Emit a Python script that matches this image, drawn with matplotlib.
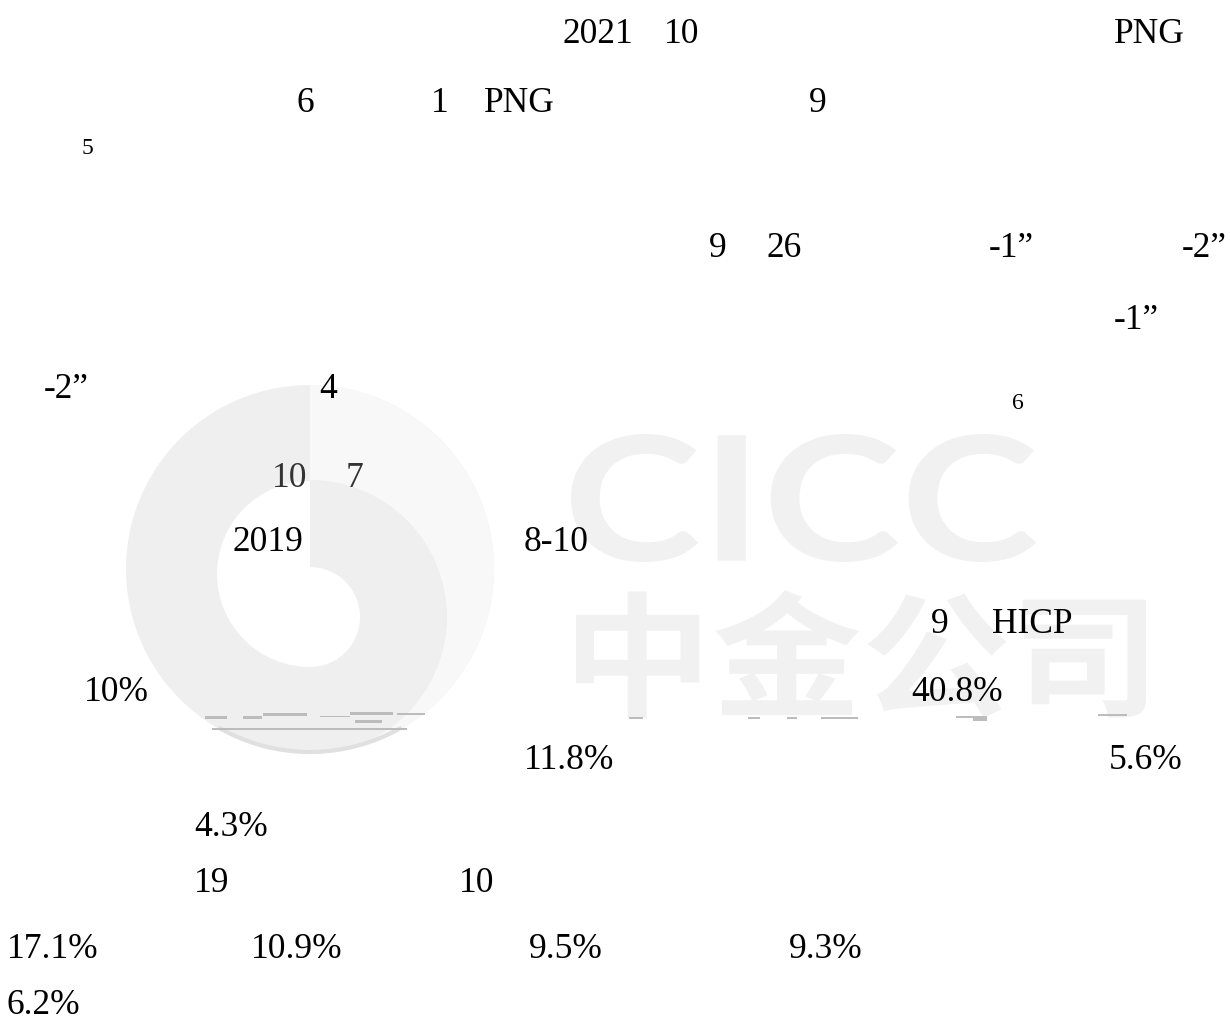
import matplotlib
matplotlib.use("Agg")
import matplotlib.pyplot as plt
from matplotlib.patches import Circle, Wedge, Rectangle, PathPatch, Arc
from matplotlib.textpath import TextPath
from matplotlib.font_manager import FontProperties
from matplotlib.transforms import Affine2D

# Texte lisible de la page (les caracteres chinois manquent dans le rendu d'origine)
row_texts = [
    ["2021", "10", "PNG"],
    ["6", "1", "PNG", "9"],
    ["9", "26", "-1\u201d", "-2\u201d"],
    ["-1\u201d"],
    ["-2\u201d", "4"],
    ["10", "7"],
    ["2019", "8-10"],
    ["9", "HICP"],
    ["10%", "40.8%"],
    ["11.8%", "5.6%"],
    ["4.3%"],
    ["19", "10"],
    ["17.1%", "10.9%", "9.5%", "9.3%"],
    ["6.2%"],
]
note_marks = ["5", "6"]

# Positions en pixels (x gauche, ligne de base)
row_x = [
    [562, 664, 1114],
    [296, 431, 484, 809],
    [709, 767, 989, 1182],
    [1114],
    [44, 319],
    [272, 346],
    [232, 524],
    [931, 992],
    [84, 911],
    [524, 1109],
    [194],
    [194, 459],
    [7, 251, 529, 789],
    [7],
]
row_y = [43, 112, 257, 329, 398, 487, 551, 633, 701, 769, 836, 892, 958, 1014]
note_x = [82, 1012]
note_y = [154, 409]

W, H = 1230, 1023
fig = plt.figure(figsize=(W / 100, H / 100), dpi=100)
ax = fig.add_axes([0, 0, 1, 1])
ax.set_xlim(0, W)
ax.set_ylim(H, 0)
ax.axis("off")

wm = "#efefef"
wm_light = "#f8f8f8"
wm_text = "#f1f1f1"


def fit_text(s, box, prop, color):
    # place un texte en chemin dans une boite (gauche, haut, droite, bas)
    tp = TextPath((0, 0), s, size=100, prop=prop)
    ext = tp.get_extents()
    x0, y0, x1, y1 = box
    tr = (Affine2D().translate(-ext.x0, -ext.y0)
          .scale((x1 - x0) / ext.width, -(y1 - y0) / ext.height)
          .translate(x0, y1))
    ax.add_patch(PathPatch(tr.transform_path(tp), fc=color, ec="none", zorder=1))


# Logo en filigrane
cx, cy = 310, 569
ax.add_patch(Circle((cx, cy), 184, fc=wm, ec="none", zorder=1))
ax.add_patch(Wedge((cx, cy), 184, -90, 90, fc=wm_light, ec="none", zorder=1))
ax.add_patch(Wedge((cx, 617), 137, -90, 90, fc=wm, ec="none", zorder=1))
ax.add_patch(Wedge((cx, 574), 93, 90, 270, fc="white", ec="none", zorder=1))
ax.add_patch(Wedge((cx, 617), 50, -90, 90, fc="white", ec="none", zorder=1))
ax.add_patch(Arc((cx, cy), 366, 366, theta1=60, theta2=120, color="#e0e0e0", lw=3, zorder=1))

# Texte du filigrane
latin = FontProperties(family="Lato", weight="bold")
cjk = FontProperties(family="Noto Sans CJK SC", weight="bold")
fit_text("CICC", (571, 434, 1036, 562), latin, wm_text)
fit_text("中金公司", (576, 590, 1146, 718), cjk, wm_text)

# Restes de traits d'un graphique
frags = [
    (205, 716, 22, 3), (243, 716, 19, 3), (263, 713, 44, 3), (320, 716, 30, 1),
    (350, 712, 43, 3), (355, 720, 27, 3), (397, 713, 28, 2), (212, 728, 195, 2),
    (629, 717, 14, 2), (748, 717, 12, 2), (787, 717, 10, 2), (821, 717, 37, 2),
    (956, 716, 20, 2), (973, 716, 14, 5), (1098, 714, 29, 2),
]
for fx, fy, fw, fh in frags:
    ax.add_patch(Rectangle((fx, fy), fw, fh, fc="#bcbcbc", ec="none", zorder=2))

serif = ["Liberation Serif", "DejaVu Serif"]
for texts, xs, y in zip(row_texts, row_x, row_y):
    for s, x in zip(texts, xs):
        col = "#333333" if y == 487 else "black"
        ax.text(x, y, s, fontsize=25.5, family=serif, color=col,
                ha="left", va="baseline", zorder=3)

for s, x, y in zip(note_marks, note_x, note_y):
    ax.text(x, y, s, fontsize=17, family=serif, color="black",
            ha="left", va="baseline", zorder=3)

fig.savefig("out.png", dpi=100, facecolor="white")
